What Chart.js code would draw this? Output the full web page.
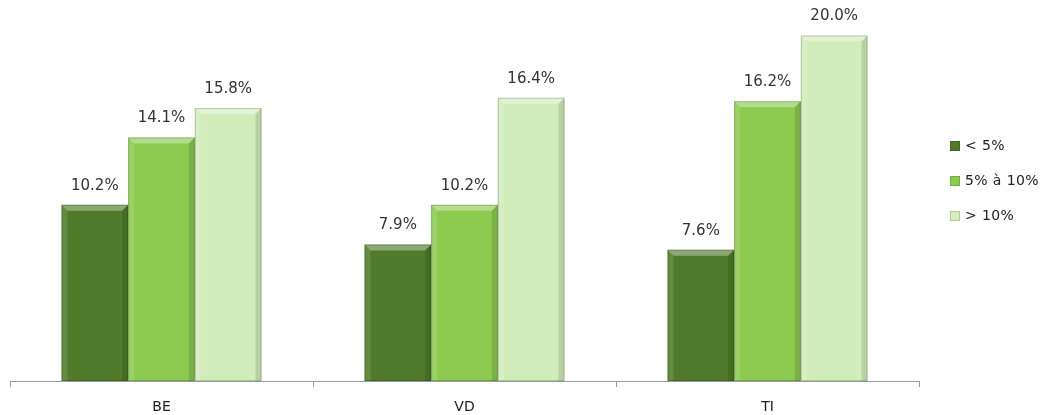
<!DOCTYPE html>
<html>
<head>
<meta charset="utf-8">
<script src="https://cdn.jsdelivr.net/npm/chart.js@4"></script>
<style>
  html, body { margin: 0; padding: 0; background: #fff; }
  #wrap { position: relative; width: 1046px; height: 415px; }
  #legend { position: absolute; left: 950px; top: 135px; font-family: "DejaVu Sans", sans-serif; font-size: 14px; letter-spacing: 0.4px; color: #222; }
  #legend div { height: 35px; line-height: 20px; white-space: nowrap; }
  #legend span { display: inline-block; width: 10px; height: 10px; margin-right: 5px; vertical-align: -1px; box-shadow: inset 0 0 0 1px rgba(0,0,0,0.15); }
</style>
</head>
<body>
<div id="wrap">
  <canvas id="chart" width="1046" height="415"></canvas>
  <div id="legend"></div>
</div>
<script>
const categories = ["BE", "VD", "TI"];
const seriesNames = ["< 5%", "5% à 10%", "> 10%"];
const lowValues = [10.2, 7.9, 7.6];
const midValues = [14.1, 10.2, 16.2];
const highValues = [15.8, 16.4, 20.0];
const colors = ["#4f7b2a", "#8cca50", "#d2edbb"];

// bevel look like the original office chart
const bevelPlugin = {
  id: "bevel",
  afterDatasetsDraw(chart) {
    const ctx = chart.ctx;
    chart.data.datasets.forEach((ds, i) => {
      chart.getDatasetMeta(i).data.forEach((bar) => {
        const l = bar.x - bar.width / 2, r = bar.x + bar.width / 2;
        const t = bar.y, b = bar.base;
        const d = 6;
        ctx.save();
        // top bevel
        ctx.fillStyle = "rgba(255,255,255,0.35)";
        ctx.beginPath();
        ctx.moveTo(l, t); ctx.lineTo(r, t); ctx.lineTo(r - d, t + d); ctx.lineTo(l + d, t + d);
        ctx.closePath(); ctx.fill();
        // left bevel
        ctx.fillStyle = "rgba(255,255,255,0.12)";
        ctx.beginPath();
        ctx.moveTo(l, t); ctx.lineTo(l + d, t + d); ctx.lineTo(l + d, b); ctx.lineTo(l, b);
        ctx.closePath(); ctx.fill();
        // right bevel
        ctx.fillStyle = "rgba(0,0,0,0.12)";
        ctx.beginPath();
        ctx.moveTo(r, t); ctx.lineTo(r - d, t + d); ctx.lineTo(r - d, b); ctx.lineTo(r, b);
        ctx.closePath(); ctx.fill();
        ctx.strokeStyle = "rgba(0,0,0,0.18)";
        ctx.lineWidth = 1;
        ctx.strokeRect(l + 0.5, t + 0.5, r - l - 1, b - t - 1);
        ctx.restore();
      });
    });
  }
};

const valueLabels = {
  id: "valueLabels",
  afterDatasetsDraw(chart) {
    const ctx = chart.ctx;
    ctx.save();
    ctx.font = "15px 'DejaVu Sans', sans-serif";
    ctx.fillStyle = "#333";
    ctx.textAlign = "center";
    ctx.textBaseline = "middle";
    chart.data.datasets.forEach((ds, i) => {
      chart.getDatasetMeta(i).data.forEach((bar, j) => {
        ctx.fillText(ds.data[j].toFixed(1) + "%", bar.x, bar.y - 19);
      });
    });
    ctx.restore();
  }
};

const data = {
  labels: categories,
  datasets: [
    { label: seriesNames[0], data: lowValues, backgroundColor: colors[0] },
    { label: seriesNames[1], data: midValues, backgroundColor: colors[1] },
    { label: seriesNames[2], data: highValues, backgroundColor: colors[2] },
  ],
};

const config = {
  type: "bar",
  data: data,
  options: {
    responsive: false,
    animation: false,
    layout: { padding: { left: 10, right: 127, top: 1, bottom: 0 } },
    datasets: { bar: { categoryPercentage: 0.66, barPercentage: 1.0 } },
    scales: {
      x: {
        afterFit(scale) { scale.height = 34; },
        grid: { display: true, offset: true, drawOnChartArea: false, drawTicks: true, tickLength: 6, color: "#999" },
        border: { display: true, color: "#999" },
        ticks: { color: "#222", font: { family: "DejaVu Sans", size: 14 }, padding: 12 },
      },
      y: {
        display: false,
        min: 0,
        max: 22,
      },
    },
    plugins: {
      legend: { display: false },
      tooltip: { enabled: false },
    },
  },
  plugins: [bevelPlugin, valueLabels],
};

const ctx = document.getElementById("chart").getContext("2d");
new Chart(ctx, config);

const legend = document.getElementById("legend");
seriesNames.forEach((name, i) => {
  const row = document.createElement("div");
  const box = document.createElement("span");
  box.style.background = colors[i];
  row.appendChild(box);
  row.appendChild(document.createTextNode(name));
  legend.appendChild(row);
});
</script>
</body>
</html>
